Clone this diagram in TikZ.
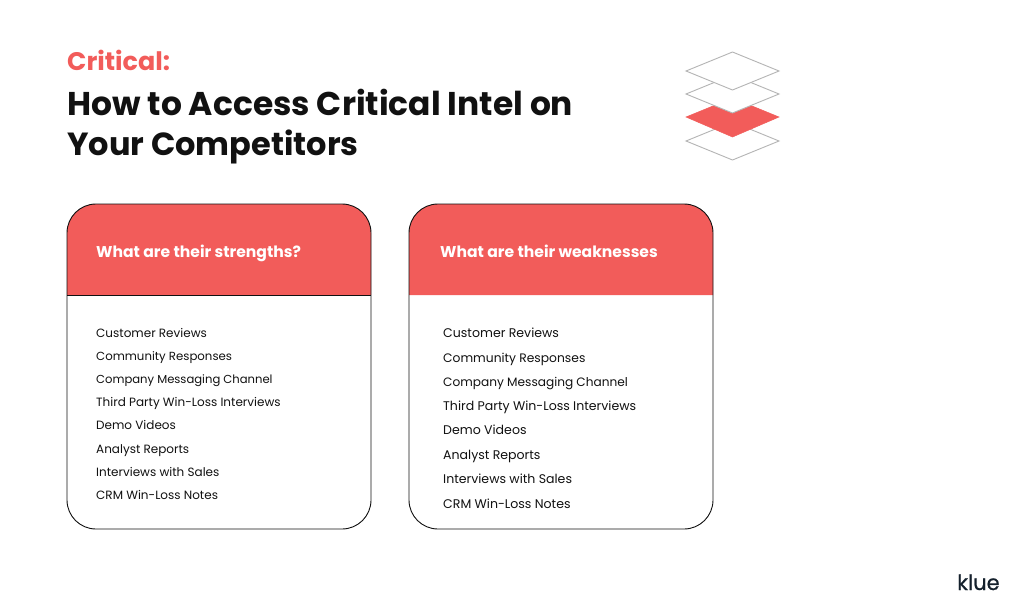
\documentclass[tikz,border=0pt]{standalone}
\usepackage{fontspec}
\setmainfont{Poppins}
\definecolor{klred}{HTML}{F25C5A}
\definecolor{klink}{HTML}{111111}
\definecolor{klgrey}{HTML}{B4B4B4}
\definecolor{klnavy}{HTML}{14202C}
\newcommand{\fsz}[1]{\fontsize{#1}{#1}\selectfont}
\tikzset{
  x=1pt,y=-1pt,
  plate/.style={draw=klgrey,line width=0.9pt,fill=white,line join=miter},
  redplate/.style={fill=klred,draw=klred,line width=0.5pt},
  cardhead/.style={fill=klred},
  cardline/.style={draw=klink,line width=0.9pt},
  headtext/.style={anchor=base west,text=white,font=\fsz{15.6}\bfseries,inner sep=0pt},
  itemtext/.style={anchor=base west,text=klink,font=\fsz{12.0},inner sep=0pt},
  itemtextb/.style={anchor=base west,text=klink,font=\fsz{12.55},inner sep=0pt},
  titletext/.style={anchor=base west,text=klink,font=\fsz{32.9}\bfseries,inner sep=0pt},
}
\begin{document}
\begin{tikzpicture}
\useasboundingbox (0,0) rectangle (1024,605);
\fill[white] (0,0) rectangle (1024,605);
% titles
\node[anchor=base west,text=klred,font=\fsz{25.4}\bfseries,inner sep=0pt] (crit) at (67,70) {Critical:};
\node[titletext] (t1) at (67,115) {How to Access Critical Intel on};
\node[titletext,font=\fsz{32}\bfseries] (t2) at (67,155) {Your Competitors};
% stack icon, bottom plate first
\draw[plate] (732.5,122) -- (779,141) -- (732.5,160) -- (686,141) -- cycle;
\draw[redplate] (732.5,98) -- (779,117) -- (732.5,137) -- (686,117) -- cycle;
\draw[plate] (732.5,75) -- (779,94) -- (732.5,113) -- (686,94) -- cycle;
\draw[plate] (732.5,52) -- (779,71) -- (732.5,90) -- (686,71) -- cycle;
% cards
\fill[cardhead] (67,295) [rounded corners=29pt] -- (67,204) -- (371,204) [sharp corners] -- (371,295) -- cycle;
\draw[cardline] (67,295) -- (371,295);
\draw[cardline,rounded corners=29pt] (67,366) -- (67,204) -- (371,204) -- (371,529) -- (67,529) -- cycle;
\fill[cardhead] (409,295) [rounded corners=29pt] -- (409,204) -- (713,204) [sharp corners] -- (713,295) -- cycle;
\draw[cardline,rounded corners=29pt] (409,366) -- (409,204) -- (713,204) -- (713,529) -- (409,529) -- cycle;
\node[headtext] (h1) at (96,257) {What are their strengths?};
\node[headtext] (h2) at (440,257) {What are their weaknesses};
% lists
\node[itemtext] (a1) at (96,337) {Customer Reviews};
\node[itemtext,font=\fsz{11.75}] (a2) at (96,360) {Community Responses};
\node[itemtext,font=\fsz{11.6}] (a3) at (96,383) {Company Messaging Channel};
\node[itemtext] (a4) at (96,406.5) {Third Party Win-Loss Interviews};
\node[itemtext] (a5) at (96,429.5) {Demo Videos};
\node[itemtext] (a6) at (96,453) {Analyst Reports};
\node[itemtext] (a7) at (96,476) {Interviews with Sales};
\node[itemtext] (a8) at (96,499.5) {CRM Win-Loss Notes};
\node[itemtextb] (b1) at (443,337) {Customer Reviews};
\node[itemtextb,font=\fsz{12.3}] (b2) at (443,362) {Community Responses};
\node[itemtextb,font=\fsz{12.15}] (b3) at (443,386) {Company Messaging Channel};
\node[itemtextb] (b4) at (443,410.5) {Third Party Win-Loss Interviews};
\node[itemtextb] (b5) at (443,434.5) {Demo Videos};
\node[itemtextb] (b6) at (443,459) {Analyst Reports};
\node[itemtextb] (b7) at (443,483) {Interviews with Sales};
\node[itemtextb] (b8) at (443,508) {CRM Win-Loss Notes};
% logo
\node[anchor=base west,text=klnavy,font=\fsz{21}\addfontfeature{FakeBold=0.6},inner sep=0pt] (logo) at (957,590) {klue};
\end{tikzpicture}
\end{document}
